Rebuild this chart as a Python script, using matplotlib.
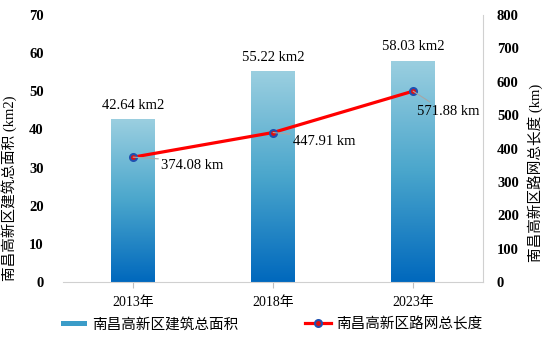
import numpy as np
import matplotlib.pyplot as plt
from matplotlib.colors import LinearSegmentedColormap
from matplotlib.patches import Rectangle
from matplotlib.lines import Line2D
from matplotlib.legend_handler import HandlerPatch

plt.rcParams['font.family'] = ['Liberation Serif', 'Noto Sans CJK SC']

years = ['2013年', '2018年', '2023年']
area = [42.64, 55.22, 58.03]          # 建筑总面积 km2
road = [374.08, 447.91, 571.88]       # 路网总长度 km

bar_cmap = LinearSegmentedColormap.from_list('bar_grad', ['#0068bd', '#4aa6cc', '#9bcfe0'])

fig = plt.figure(figsize=(5.54, 3.41), dpi=100)
ax = fig.add_axes([0.114, 0.173, 0.758, 0.783])
ax2 = ax.twinx()

x = np.arange(len(years))
bars = ax.bar(x, area, width=0.31, color='none', zorder=2)
grad = np.linspace(0, 1, 256).reshape(-1, 1)
for b in bars:
    x0, w, h = b.get_x(), b.get_width(), b.get_height()
    im = ax.imshow(grad, cmap=bar_cmap, aspect='auto', origin='lower',
                   extent=[x0, x0 + w, 0, h], zorder=2)
    im.set_clip_path(b)
    ax.text(x0 + w / 2, h + 2.0, f'{h:.2f} km2', ha='center', va='bottom',
            fontsize=10.5)

ax.set_xlim(-0.5, 2.5)
ax.set_ylim(0, 70)
ax.set_yticks(range(0, 71, 10))
ax.set_xticks(x)
ax.set_xticklabels(years, fontsize=10)
ax.tick_params(axis='y', labelsize=10.5, length=0, pad=14)
ax.tick_params(axis='x', length=4, color='#bfbfbf', pad=6)
for t in ax.get_yticklabels():
    t.set_fontweight('bold')
ax.set_ylabel('南昌高新区建筑总面积 (km2)', fontsize=10.5)
ax.yaxis.set_label_coords(-0.109, 0.35)
for s in ['top', 'left', 'right']:
    ax.spines[s].set_visible(False)
ax.spines['bottom'].set_color('#d0d0d0')

ax2.plot(x, road, color='#ff0000', lw=2.3, marker='o', ms=5,
         mfc='#e01010', mec='#2050b0', mew=1.5, zorder=3)
ax2.set_ylim(0, 800)
ax2.set_yticks(range(0, 801, 100))
ax2.tick_params(axis='y', labelsize=10.5, length=0, pad=10)
for t in ax2.get_yticklabels():
    t.set_fontweight('bold')
ax2.set_ylabel('南昌高新区路网总长度 (km)', fontsize=10.5)
ax2.yaxis.set_label_coords(1.105, 0.41)
for s in ['top', 'left', 'bottom']:
    ax2.spines[s].set_visible(False)
ax2.spines['right'].set_color('#d0d0d0')

# 折线数据标签及引导线
offsets = [(0.2, -25), (0.14, -27), (0.03, -60)]
for xi, v, (dx, dy) in zip(x, road, offsets):
    ax2.annotate(f'{v:.2f} km', xy=(xi, v), xytext=(xi + dx, v + dy),
                 fontsize=10.5, ha='left', va='center',
                 arrowprops=dict(arrowstyle='-', color='#a6a6a6', lw=0.8,
                                 shrinkA=0, shrinkB=0, relpos=(0.3, 0.9)))


class GradientHandler(HandlerPatch):
    def create_artists(self, legend, orig_handle, xdescent, ydescent,
                       width, height, fontsize, trans):
        r = Rectangle((-xdescent, -ydescent + height * 0.2), width, height * 0.5,
                      facecolor='#3b9cc8', edgecolor='none', transform=trans)
        return [r]


h1 = Rectangle((0, 0), 1, 1, facecolor='#3b9cc8')
h2 = Line2D([], [], color='#ff0000', lw=2.3, marker='o', ms=5,
            mfc='#e01010', mec='#2050b0', mew=1.5)
fig.legend([h1, h2], ['南昌高新区建筑总面积', '南昌高新区路网总长度'],
           loc='lower center', bbox_to_anchor=(0.49, -0.01), ncol=2, frameon=False,
           fontsize=10.5, handlelength=1.8, handletextpad=0.3, columnspacing=4.6,
           handler_map={Rectangle: GradientHandler()})

fig.savefig('out.png', dpi=100)
